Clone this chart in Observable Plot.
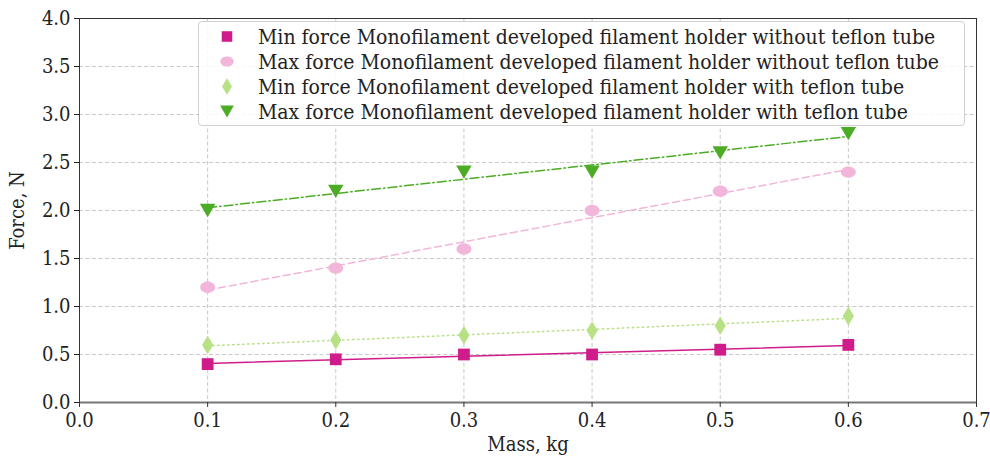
<!DOCTYPE html>
<html><head><meta charset="utf-8">
<script src="https://cdn.jsdelivr.net/npm/d3@7"></script>
<script src="https://cdn.jsdelivr.net/npm/@observablehq/plot@0.6"></script>
<style>
body{margin:0;background:#fff;}
#wrap{position:relative;width:990px;height:462px;font-family:"DejaVu Serif Condensed","DejaVu Serif",serif;font-stretch:condensed;}
#legend{position:absolute;left:198px;top:21px;width:767px;height:105px;border:1px solid #d0d0d0;border-radius:4px;background:rgba(255,255,255,0.85);box-sizing:border-box;}
.row{position:absolute;left:0;height:25px;display:flex;align-items:center;font-size:21px;color:#222;white-space:nowrap;}
.row svg{position:absolute;left:16px;}
.row span{position:absolute;left:59px;}
</style></head><body><div id="wrap"></div>
<script>
const mass = [0.1, 0.2, 0.3, 0.4, 0.5, 0.6];
const minWithout = [0.4, 0.45, 0.5, 0.5, 0.55, 0.6];
const maxWithout = [1.2, 1.4, 1.6, 2.0, 2.2, 2.4];
const minWith = [0.6, 0.65, 0.7, 0.75, 0.8, 0.9];
const maxWith = [2.0, 2.2, 2.4, 2.4, 2.6, 2.8];
const seriesNames = [
  "Min force Monofilament developed filament holder without teflon tube",
  "Max force Monofilament developed filament holder without teflon tube",
  "Min force Monofilament developed filament holder with teflon tube",
  "Max force Monofilament developed filament holder with teflon tube"
];
const seriesValues = [minWithout, maxWithout, minWith, maxWith];
const colors = ["#d01c8b", "#f1b6da", "#b8e186", "#4dac26"];
const dashes = [null, "7,4", "1.5,3.5", "9,3,1.5,3"];
const xTicks = [0, 0.1, 0.2, 0.3, 0.4, 0.5, 0.6, 0.7];
const yTicks = [0, 0.5, 1.0, 1.5, 2.0, 2.5, 3.0, 3.5, 4.0];
const fontFamily = '"DejaVu Serif Condensed","DejaVu Serif",serif';

// custom marker symbols
const symSquare = {draw(c, size){const s = Math.sqrt(size)*0.95; c.rect(-s/2,-s/2,s,s);}};
const symEllipse = {draw(c, size){
  const s = Math.sqrt(size); const rx = s*0.6, ry = s*0.46, k = 0.5523;
  c.moveTo(rx,0);
  c.bezierCurveTo(rx, ry*k, rx*k, ry, 0, ry);
  c.bezierCurveTo(-rx*k, ry, -rx, ry*k, -rx, 0);
  c.bezierCurveTo(-rx, -ry*k, -rx*k, -ry, 0, -ry);
  c.bezierCurveTo(rx*k, -ry, rx, -ry*k, rx, 0);
  c.closePath();
}};
const symThinDiamond = {draw(c, size){const s = Math.sqrt(size); const w = s*0.42, h = s*0.7;
  c.moveTo(0,-h); c.lineTo(w,0); c.lineTo(0,h); c.lineTo(-w,0); c.closePath();}};
const symDownTri = {draw(c, size){const s = Math.sqrt(size); const w = s*0.58, h = s*0.5;
  c.moveTo(-w,-h); c.lineTo(w,-h); c.lineTo(0,h); c.closePath();}};
const symbols = [symSquare, symEllipse, symThinDiamond, symDownTri];
const radii = [7, 7, 7.5, 7.5];

const data = seriesValues.map((vals, i) => mass.map((m, j) => ({mass: m, value: vals[j], series: seriesNames[i]})));

const marks = [
  Plot.gridX(xTicks, {stroke: "#c8c8c8", strokeOpacity: 1, strokeDasharray: "4,2.5"}),
  Plot.gridY(yTicks, {stroke: "#c8c8c8", strokeOpacity: 1, strokeDasharray: "4,2.5"})
];
data.forEach((d, i) => {
  marks.push(Plot.linearRegressionY(d, {x: "mass", y: "value", stroke: colors[i], strokeWidth: 1.5, ci: 0, strokeDasharray: dashes[i]}));
});
data.forEach((d, i) => {
  marks.push(Plot.dot(d, {x: "mass", y: "value", symbol: () => symbols[i], r: radii[i], fill: colors[i], stroke: "none"}));
});
marks.push(Plot.frame({stroke: "#333", strokeWidth: 1}));
marks.push(Plot.ruleY([0], {stroke: "#777", strokeWidth: 2}));
marks.push(Plot.axisX(xTicks, {tickSize: 5, tickPadding: 5, tickFormat: d3.format(".1f"), label: "Mass, kg", labelAnchor: "center", labelOffset: 48, labelArrow: "none", fontSize: 20, stroke: "#333"}));
marks.push(Plot.axisY(yTicks, {tickSize: 5, tickPadding: 4, tickFormat: d3.format(".1f"), label: "Force, N", labelAnchor: "center", labelOffset: 70, labelArrow: "none", fontSize: 20}));

const chart = Plot.plot({
  width: 990, height: 462,
  marginLeft: 79, marginRight: 14, marginTop: 18, marginBottom: 60,
  style: {fontFamily, fontSize: "20px", color: "#222", background: "transparent"},
  x: {domain: [0, 0.7]},
  y: {domain: [0, 4]},
  marks
});
const wrap = document.getElementById("wrap");
wrap.appendChild(chart);

// legend
const legend = document.createElement("div");
legend.id = "legend";
seriesNames.forEach((name, i) => {
  const row = document.createElement("div");
  row.className = "row";
  row.style.top = (2 + i * 25) + "px";
  const svg = d3.create("svg").attr("width", 24).attr("height", 25);
  svg.append("path").attr("transform", "translate(12,12.5)")
    .attr("d", d3.symbol(symbols[i], radii[i] * radii[i] * Math.PI * 0.8)())
    .attr("fill", colors[i]);
  row.appendChild(svg.node());
  const span = document.createElement("span");
  span.textContent = name;
  row.appendChild(span);
  legend.appendChild(row);
});
wrap.appendChild(legend);
</script>
</body></html>
